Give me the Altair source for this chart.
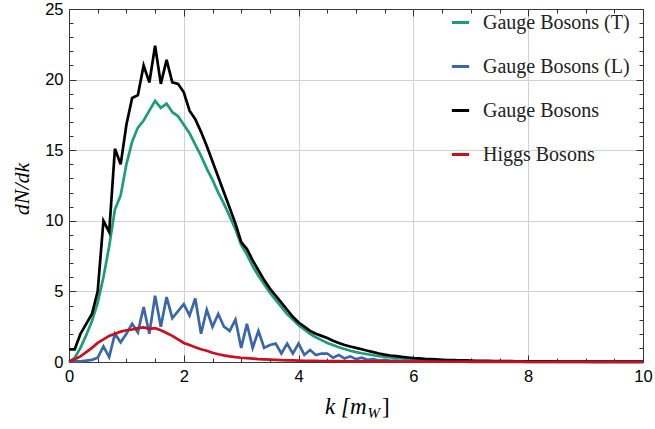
import altair as alt
import pandas as pd

k = [round(0.1 * i, 1) for i in range(101)]

gauge_T = [
    0.0, 0.3, 1.0, 1.9, 2.9, 4.2, 6.0, 8.2, 10.8, 11.8,
    14.0, 15.6, 16.6, 17.1, 17.8, 18.5, 18.0, 18.3, 17.7, 17.4,
    16.8, 16.2, 15.4, 14.6, 13.7, 12.9, 12.0, 11.2, 10.3, 9.4,
    8.3, 7.6, 6.8, 6.1, 5.5, 4.9, 4.4, 3.9, 3.4, 3.0,
    2.6, 2.3, 2.0, 1.75, 1.55, 1.35, 1.2, 1.05, 0.92, 0.8,
    0.7, 0.62, 0.55, 0.48, 0.42, 0.37, 0.33, 0.29, 0.25, 0.22,
    0.19, 0.17, 0.15, 0.13, 0.11, 0.1, 0.09, 0.08, 0.07, 0.06,
    0.05, 0.05, 0.04, 0.04, 0.04, 0.03, 0.03, 0.03, 0.03, 0.02,
    0.02, 0.02, 0.02, 0.02, 0.02, 0.02, 0.02, 0.02, 0.02, 0.02,
    0.02, 0.01, 0.01, 0.01, 0.01, 0.01, 0.01, 0.01, 0.01, 0.01,
    0.01,
]

gauge_L = [
    0.05, 0.05, 0.05, 0.1, 0.15, 0.3, 1.1, 0.35, 2.0, 1.4,
    2.0, 2.7, 2.1, 3.9, 2.0, 4.7, 2.5, 4.6, 3.1, 3.6,
    4.1, 3.3, 4.5, 2.0, 3.7, 2.5, 3.4, 2.5, 2.2, 3.0,
    1.0, 2.7, 1.0, 2.2, 1.0, 1.2, 1.3, 0.6, 1.3, 0.6,
    1.3, 0.5, 0.85, 0.5, 0.6, 0.6, 0.3, 0.5, 0.25, 0.4,
    0.2, 0.3, 0.15, 0.2, 0.1, 0.15, 0.08, 0.1, 0.05, 0.06,
    0.04, 0.04, 0.03, 0.03, 0.03, 0.02, 0.02, 0.02, 0.02, 0.02,
    0.01, 0.01, 0.01, 0.01, 0.01, 0.01, 0.01, 0.01, 0.01, 0.01,
    0.01, 0.01, 0.01, 0.01, 0.01, 0.01, 0.01, 0.01, 0.01, 0.01,
    0.01, 0.01, 0.01, 0.01, 0.01, 0.01, 0.01, 0.01, 0.01, 0.01,
    0.01,
]

gauge_all = [
    0.9, 0.9, 2.0, 2.7, 3.4, 5.0, 10.0, 9.2, 15.1, 14.0,
    16.8, 18.7, 18.9, 21.0, 19.8, 22.4, 19.7, 21.4, 19.8, 19.7,
    19.1, 17.8, 17.2, 16.3, 15.3, 14.2, 13.1, 12.0, 10.9, 9.8,
    8.5, 8.0, 7.2, 6.5, 5.8, 5.2, 4.7, 4.2, 3.7, 3.2,
    2.8, 2.5, 2.2, 2.0, 1.85, 1.7, 1.5, 1.35, 1.2, 1.1,
    1.0, 0.9, 0.8, 0.7, 0.6, 0.52, 0.46, 0.41, 0.36, 0.32,
    0.28, 0.25, 0.22, 0.2, 0.18, 0.16, 0.14, 0.13, 0.12, 0.11,
    0.1, 0.09, 0.08, 0.08, 0.07, 0.07, 0.06, 0.06, 0.05, 0.05,
    0.05, 0.04, 0.04, 0.04, 0.04, 0.03, 0.03, 0.03, 0.03, 0.03,
    0.03, 0.02, 0.02, 0.02, 0.02, 0.02, 0.02, 0.02, 0.02, 0.02,
    0.02,
]

higgs = [
    0.05, 0.2, 0.4, 0.7, 1.0, 1.35, 1.6, 1.85, 2.0, 2.15,
    2.25, 2.3, 2.4, 2.45, 2.35, 2.4, 2.25, 2.05, 1.85, 1.6,
    1.35, 1.2, 1.05, 0.9, 0.8, 0.65, 0.55, 0.47, 0.4, 0.34,
    0.3, 0.27, 0.24, 0.21, 0.19, 0.17, 0.15, 0.13, 0.12, 0.11,
    0.1, 0.09, 0.08, 0.08, 0.07, 0.07, 0.06, 0.06, 0.05, 0.05,
    0.05, 0.04, 0.04, 0.04, 0.04, 0.04, 0.03, 0.03, 0.03, 0.03,
    0.03, 0.02, 0.02, 0.02, 0.02, 0.02, 0.02, 0.02, 0.02, 0.02,
    0.02, 0.02, 0.02, 0.02, 0.02, 0.02, 0.02, 0.02, 0.02, 0.02,
    0.01, 0.01, 0.01, 0.01, 0.01, 0.01, 0.01, 0.01, 0.01, 0.01,
    0.01, 0.01, 0.01, 0.01, 0.01, 0.01, 0.01, 0.01, 0.01, 0.01,
    0.01,
]

series_names = ["Gauge Bosons (T)", "Gauge Bosons (L)", "Gauge Bosons", "Higgs Bosons"]
series_colors = ["#1b9e77", "#3a67a8", "#000000", "#c8101e"]
series_values = [gauge_T, gauge_L, gauge_all, higgs]

x_major = [0, 2, 4, 6, 8, 10]
x_minor = [0.5, 1, 1.5, 2.5, 3, 3.5, 4.5, 5, 5.5, 6.5, 7, 7.5, 8.5, 9, 9.5]
x_grid = [2, 4, 6, 8]
y_major = [0, 5, 10, 15, 20, 25]
y_minor = [1, 2, 3, 4, 6, 7, 8, 9, 11, 12, 13, 14, 16, 17, 18, 19, 21, 22, 23, 24]
y_grid = [5, 10, 15, 20]

rows = []
for name, vals in zip(series_names, series_values):
    for kk, vv in zip(k, vals):
        rows.append({"k": kk, "v": vv, "series": name})
df = pd.DataFrame(rows)

xs = alt.Scale(domain=[0, 10], nice=False, zero=False)
ys = alt.Scale(domain=[0, 25], nice=False, zero=False)

TICK = "#333333"
SERIF = "Liberation Serif"
SANS = "Liberation Sans"


def axis(orient, values, size, labels=False, grid=False):
    return alt.Axis(
        orient=orient, values=values, tickSize=size, offset=-size,
        ticks=size > 0, labels=labels, grid=grid, domain=False, title=None,
        tickColor=TICK, tickWidth=1, gridColor="#d2d2d2", gridWidth=1,
        labelFont=SANS, labelFontSize=16.5, labelColor="#000000",
        labelPadding=6, labelFlush=False, labelOverlap=False,
    )


def axis_layer(xaxis, yaxis):
    return alt.Chart(df).mark_point(opacity=0).encode(
        x=alt.X("k:Q", scale=xs, axis=xaxis),
        y=alt.Y("v:Q", scale=ys, axis=yaxis),
    )


grid_layer = axis_layer(axis("bottom", x_grid, 0, grid=True), axis("left", y_grid, 0, grid=True))
major_bl = axis_layer(axis("bottom", x_major, 7, labels=True), axis("left", y_major, 7, labels=True))
minor_bl = axis_layer(axis("bottom", x_minor, 4), axis("left", y_minor, 4))
major_tr = axis_layer(axis("top", x_major, 7), axis("right", y_major, 7))
minor_tr = axis_layer(axis("top", x_minor, 4), axis("right", y_minor, 4))

lines = alt.Chart(df).mark_line(strokeWidth=2.7).encode(
    x=alt.X("k:Q", scale=xs, axis=None),
    y=alt.Y("v:Q", scale=ys, axis=None),
    color=alt.Color(
        "series:N",
        scale=alt.Scale(domain=series_names, range=series_colors),
        sort=series_names,
        legend=alt.Legend(
            title=None, orient="none", legendX=381, legendY=3, padding=0,
            symbolType="stroke", symbolSize=300, symbolStrokeWidth=3,
            labelFont=SERIF, labelFontSize=20, labelColor="#222222",
            labelOffset=12, rowPadding=23,
        ),
    ),
)

ytitle = alt.Chart(pd.DataFrame({"t": ["dN/dk"]})).mark_text(
    font=SERIF, fontStyle="italic", fontSize=22, angle=270,
    align="center", baseline="middle", color="#000000",
).encode(text="t:N", x=alt.value(-47), y=alt.value(180))

xt1 = alt.Chart(pd.DataFrame({"t": ["k [m"]})).mark_text(
    font=SERIF, fontStyle="italic", fontSize=23,
    align="left", baseline="alphabetic", color="#000000",
).encode(text="t:N", x=alt.value(256), y=alt.value(405))
xt2 = alt.Chart(pd.DataFrame({"t": ["W"]})).mark_text(
    font=SERIF, fontStyle="italic", fontSize=15,
    align="left", baseline="alphabetic", color="#000000",
).encode(text="t:N", x=alt.value(298.5), y=alt.value(409))
xt3 = alt.Chart(pd.DataFrame({"t": ["]"]})).mark_text(
    font=SERIF, fontSize=23,
    align="left", baseline="alphabetic", color="#000000",
).encode(text="t:N", x=alt.value(313), y=alt.value(405))

chart = alt.layer(
    grid_layer, minor_bl, major_bl, minor_tr, major_tr, lines, ytitle, xt1, xt2, xt3
).resolve_axis(x="independent", y="independent").properties(
    width=574, height=353,
    padding={"left": 69, "top": 9, "right": 12, "bottom": 67},
    autosize=alt.AutoSizeParams(type="none"),
).configure_view(stroke="#3a3a3a", strokeWidth=1)

chart.save("out.html", embed_options={"renderer": "svg", "actions": False})
